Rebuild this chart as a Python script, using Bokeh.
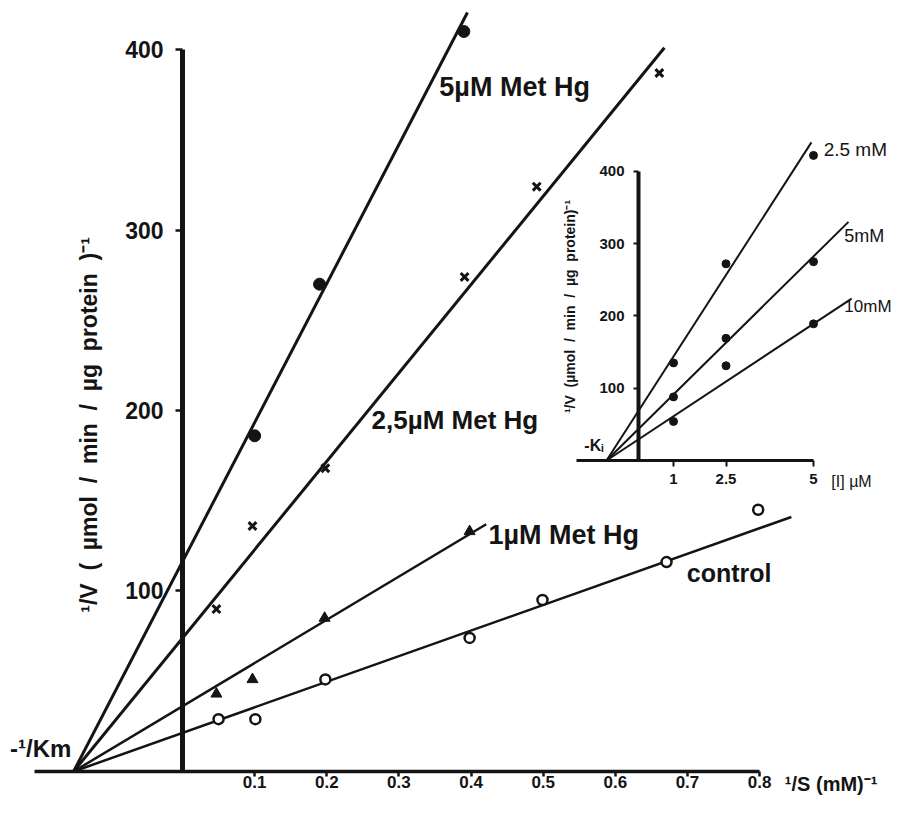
import math
from bokeh.plotting import figure
from bokeh.models import LinearAxis, Range1d, FixedTicker, Label
from bokeh.embed import file_html
from bokeh.resources import INLINE

# ---------------- data: main Lineweaver-Burk plot ----------------
x_ticks = [0.1, 0.2, 0.3, 0.4, 0.5, 0.6, 0.7, 0.8]
y_ticks = [100, 200, 300, 400]

# 5 uM Met Hg (filled circles)
hg5_x = [0.1, 0.19, 0.39]
hg5_y = [186, 270, 410]
# 2.5 uM Met Hg (crosses)
hg25_x = [0.047, 0.097, 0.198, 0.391, 0.491, 0.661]
hg25_y = [90, 136, 168, 274, 324, 387]
# 1 uM Met Hg (triangles)
hg1_x = [0.047, 0.097, 0.197, 0.398]
hg1_y = [43, 51, 85, 133]
# control (open circles)
ctrl_x = [0.05, 0.101, 0.198, 0.398, 0.499, 0.671, 0.798]
ctrl_y = [29, 29, 51, 74, 95, 116, 145]

# fitted lines: common start at -1/Km, individual end points
km_x = -0.151
line_end_x = {"hg5": 0.395, "hg25": 0.668, "hg1": 0.421, "ctrl": 0.844}
line_end_y = {"hg5": 420.5, "hg25": 401, "hg1": 137, "ctrl": 141}

# ---------------- data: inset (Dixon plot) ----------------
in_x_ticks = [1, 2.5, 5]
in_y_ticks = [100, 200, 300, 400]
in_x = [1, 2.5, 5]
s25_y = [135, 272, 422]
s5_y = [88, 169, 275]
s10_y = [54, 131, 189]
ki_x = -0.914
in_end_x = {"s25": 4.94, "s5": 6.0, "s10": 6.09}
in_end_y = {"s25": 440, "s5": 330, "s10": 224}

INK = "#141414"
FONT = "Liberation Sans"
NB = "\u00a0"

p = figure(width=896, height=798, output_backend="svg", toolbar_location=None,
           x_range=Range1d(-0.25229, 0.98974), y_range=Range1d(-14.96, 427.15),
           min_border=0, outline_line_color=None, background_fill_color="white")
p.grid.visible = False
p.extra_x_ranges = {"ix": Range1d(-18.229, 7.371)}
p.extra_y_ranges = {"iy": Range1d(-467.50, 636.24)}

# ---- main axes ----
xa = p.xaxis[0]
xa.fixed_location = 0
xa.bounds = (-0.205, 0.8)
xa.ticker = FixedTicker(ticks=x_ticks)
xa.axis_line_width = 3.5
xa.axis_line_color = INK
xa.major_tick_in = 0
xa.major_tick_out = 5
xa.major_tick_line_width = 2.5
xa.major_tick_line_color = INK
xa.minor_tick_line_color = None
xa.major_label_text_font = FONT
xa.major_label_text_font_style = "bold"
xa.major_label_text_font_size = "17px"
xa.major_label_text_color = INK
xa.major_label_standoff = 0

ya = p.yaxis[0]
ya.fixed_location = 0
ya.bounds = (0, 400)
ya.ticker = FixedTicker(ticks=y_ticks)
ya.axis_line_width = 5
ya.axis_line_color = INK
ya.major_tick_in = 0
ya.major_tick_out = 7
ya.major_tick_line_width = 2.5
ya.major_tick_line_color = INK
ya.minor_tick_line_color = None
ya.major_label_text_font = FONT
ya.major_label_text_font_style = "bold"
ya.major_label_text_font_size = "23px"
ya.major_label_text_color = INK
ya.major_label_standoff = 12
ya.major_label_orientation = "horizontal"

# ---- inset axes ----
iax = LinearAxis(x_range_name="ix", y_range_name="iy", fixed_location=0,
                 bounds=(-1.77, 5.0), ticker=FixedTicker(ticks=in_x_ticks),
                 axis_line_width=3, axis_line_color=INK,
                 major_tick_in=0, major_tick_out=6, major_tick_line_width=2,
                 major_tick_line_color=INK, minor_tick_line_color=None,
                 major_label_text_font=FONT, major_label_text_font_style="bold",
                 major_label_text_font_size="15px", major_label_text_color=INK,
                 major_label_standoff=8)
p.add_layout(iax, "below")
iay = LinearAxis(x_range_name="ix", y_range_name="iy", fixed_location=0,
                 bounds=(0, 400), ticker=FixedTicker(ticks=in_y_ticks),
                 axis_line_width=4, axis_line_color=INK,
                 major_tick_in=0, major_tick_out=5, major_tick_line_width=2,
                 major_tick_line_color=INK, minor_tick_line_color=None,
                 major_label_text_font=FONT, major_label_text_font_style="bold",
                 major_label_text_font_size="15px", major_label_text_color=INK,
                 major_label_standoff=9, major_label_orientation="horizontal")
p.add_layout(iay, "left")

# ---- main fitted lines ----
for key, lw in [("hg5", 3), ("hg25", 3), ("hg1", 2.5), ("ctrl", 2.5)]:
    p.line([km_x, line_end_x[key]], [0, line_end_y[key]], line_color=INK, line_width=lw)

# ---- main points ----
p.scatter(hg5_x, hg5_y, marker="circle", size=12, fill_color=INK, line_color=INK)
p.scatter(hg25_x, hg25_y, marker="x", size=11, line_color=INK, line_width=3)
p.scatter(hg1_x, hg1_y, marker="triangle", size=11, fill_color=INK, line_color=INK)
p.scatter(ctrl_x, ctrl_y, marker="circle", size=10, fill_color="white",
          line_color=INK, line_width=2.5)

# ---- inset lines and points ----
for key in ["s25", "s5", "s10"]:
    p.line([ki_x, in_end_x[key]], [0, in_end_y[key]], line_color=INK, line_width=2,
           x_range_name="ix", y_range_name="iy")
for ys in [s25_y, s5_y, s10_y]:
    p.scatter(in_x, ys, marker="circle", size=8, fill_color=INK, line_color=INK,
              x_range_name="ix", y_range_name="iy")

# ---- labels ----
def lab(x, y, text, size, bold=True, align="left", angle=0.0, rx="default", ry="default"):
    p.add_layout(Label(x=x, y=y, text=text, text_font=FONT,
                       text_font_style="bold" if bold else "normal",
                       text_font_size=size, text_color=INK, text_align=align,
                       text_baseline="middle", angle=angle,
                       x_range_name=rx, y_range_name=ry))

lab(0.356, 379, "5µM Met Hg", "27px")
lab(0.262, 195, "2,5µM Met Hg", "26px")
lab(0.424, 131, "1µM Met Hg", "27px")
lab(0.699, 110, "control", "25px")
lab(-0.154, 13, "-¹/Km", "24px", align="right")
lab(0.835, -7, "¹/S (mM)⁻¹", "20px")
ylab = "¹/V (µmol / min / µg protein)⁻¹".replace(" ", NB * 2).replace("(", "(" + NB * 2).replace(")", NB * 2 + ")")
lab(-0.129, 192, ylab, "23px", align="center", angle=math.pi / 2)

lab(5.29, 430, "2.5 mM", "19px", bold=False, rx="ix", ry="iy")
lab(5.88, 310, "5mM", "18px", bold=False, rx="ix", ry="iy")
lab(5.88, 213, "10mM", "17px", bold=False, rx="ix", ry="iy")
lab(-1.0, 21, "-Kᵢ", "16px", align="right", rx="ix", ry="iy")
lab(5.51, -29, "[I] µM", "16px", bold=False, rx="ix", ry="iy")
iylab = "¹/V (µmol / min / µg protein)⁻¹".replace(" ", NB * 2)
lab(-1.97, 213, iylab, "14px", align="center", angle=math.pi / 2, rx="ix", ry="iy")

open("out.html", "w").write(file_html(p, INLINE))
